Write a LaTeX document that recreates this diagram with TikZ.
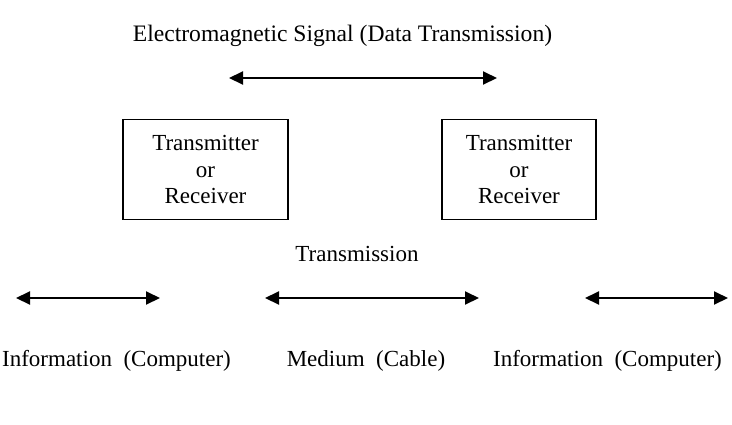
\documentclass[tikz,border=0pt]{standalone}
\usepackage{fontspec}
\setmainfont{Liberation Serif}
\usetikzlibrary{arrows.meta, positioning}

\begin{document}
\begin{tikzpicture}[x=1pt, y=-1pt, >={Triangle[length=14pt, width=13pt]},
    label/.style={font=\fontsize{23}{27}\selectfont, inner sep=0pt},
    trbox/.style={draw, line width=1.3pt, minimum width=165pt, minimum height=100pt,
        align=center, font=\fontsize{23}{26.5}\selectfont},
    link/.style={<->, line width=2pt}]
\useasboundingbox (0, 0) rectangle (732, 424);

% === Señal superior ===
\node[label, font=\fontsize{23.6}{27}\selectfont] (signal) at (342.5, 36) {Electromagnetic Signal (Data Transmission)};
\coordinate (sigL) at (229, 78);
\coordinate (sigR) at (497, 78);
\draw[link] (sigL) -- (sigR);

% === Transmisor / receptor ===
\node[trbox] (left) at (205.5, 169.5) {Transmitter\\or\\Receiver};
\node[trbox, minimum width=154pt] (right) at (519, 169.5) {Transmitter\\or\\Receiver};

% === Medio ===
\node[label] (trans) at (357, 254) {Transmission};

\coordinate (aL1) at (16, 298);  \coordinate (aL2) at (160, 298);
\coordinate (aM1) at (265, 298); \coordinate (aM2) at (479, 298);
\coordinate (aR1) at (585, 298); \coordinate (aR2) at (728, 298);
\draw[link] (aL1) -- (aL2);
\draw[link] (aM1) -- (aM2);
\draw[link] (aR1) -- (aR2);

% === Etiquetas inferiores ===
\node[label, anchor=east] (infoL) at (231, 361) {Information~ (Computer)};
\node[label] (medium) at (366, 361) {Medium~ (Cable)};
\node[label, anchor=east] (infoR) at (722, 361) {Information~ (Computer)};

\end{tikzpicture}
\end{document}
